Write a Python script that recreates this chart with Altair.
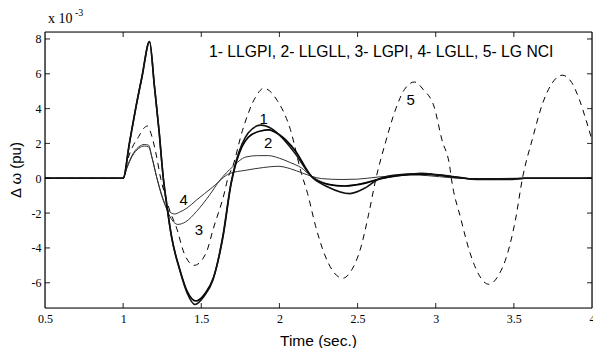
import altair as alt
import pandas as pd

# ---- data (values in units of 1e-3 pu) ----
t1 = [0.5, 1.0, 1.04, 1.08, 1.12, 1.169, 1.2, 1.23, 1.257, 1.278, 1.31, 1.363, 1.41, 1.46, 1.52, 1.574,
      1.637, 1.69, 1.72, 1.76, 1.8, 1.88, 1.95, 2.02, 2.1, 2.207, 2.31, 2.45, 2.55, 2.627, 2.73, 2.9,
      3.05, 3.16, 3.26, 3.47, 3.57, 4.0]
v1 = [0, 0, 2.0, 4.0, 5.8, 7.85, 5.3, 2.7, 0.0, -1.45, -3.37, -5.3, -6.6, -7.25, -6.75, -5.86,
      -3.37, -0.3, 0.9, 1.95, 2.6, 3.05, 2.85, 2.3, 1.43, 0.07, -0.5, -0.88, -0.55, -0.08, 0.17, 0.27,
      0.17, 0.04, -0.07, -0.07, 0.0, 0.0]

t2 = [0.5, 1.0, 1.04, 1.08, 1.12, 1.169, 1.2, 1.23, 1.257, 1.278, 1.31, 1.363, 1.41, 1.465, 1.525, 1.578,
      1.64, 1.69, 1.72, 1.76, 1.8, 1.88, 1.93, 2.0, 2.1, 2.207, 2.31, 2.42, 2.55, 2.65, 2.75, 2.9,
      3.05, 3.16, 3.26, 3.47, 3.57, 4.0]
v2 = [0, 0, 2.0, 4.0, 5.8, 7.85, 5.3, 2.7, 0.0, -1.45, -3.37, -5.25, -6.5, -7.05, -6.6, -5.7,
      -3.3, -0.35, 0.8, 1.8, 2.35, 2.72, 2.78, 2.5, 1.6, 0.1, -0.35, -0.44, -0.28, -0.02, 0.15, 0.24,
      0.15, 0.03, -0.05, -0.06, 0.0, 0.0]

t3 = [0.5, 1.0, 1.025, 1.057, 1.1, 1.135, 1.163, 1.184, 1.215, 1.26, 1.3, 1.35, 1.4, 1.47, 1.55, 1.62,
      1.7, 1.785, 1.86, 1.93, 2.0, 2.07, 2.14, 2.2, 2.3, 2.4, 2.5, 2.6, 2.7, 2.8, 2.92, 3.0, 3.1,
      3.2, 3.3, 3.45, 3.6, 4.0]
v3 = [0, 0, 0.65, 1.32, 1.8, 1.94, 1.9, 1.22, 0.05, -1.3, -2.2, -2.65, -2.5, -1.9, -1.0, -0.1,
      0.65, 1.22, 1.3, 1.3, 1.15, 0.9, 0.6, 0.15, -0.3, -0.45, -0.35, -0.12, 0.05, 0.18, 0.3, 0.2, 0.05,
      -0.03, -0.05, -0.03, 0.0, 0.0]

t4 = [0.5, 1.0, 1.025, 1.057, 1.1, 1.135, 1.163, 1.184, 1.215, 1.25, 1.289, 1.33, 1.36, 1.41, 1.468,
      1.574, 1.68, 1.785, 1.9, 1.99, 2.07, 2.15, 2.27, 2.4, 2.5, 2.63, 2.75, 2.84, 2.95, 3.1, 3.3,
      3.5, 4.0]
v4 = [0, 0, 0.6, 1.25, 1.72, 1.85, 1.8, 1.2, 0.05, -1.1, -1.85, -2.05, -1.95, -1.7, -1.26,
      -0.5, 0.27, 0.46, 0.62, 0.69, 0.55, 0.29, -0.02, -0.07, -0.05, 0.07, 0.15, 0.2, 0.15, 0.03, -0.03,
      0.0, 0.0]

t5 = [0.5, 1.0, 1.03, 1.06, 1.1, 1.13, 1.155, 1.184, 1.215, 1.24, 1.266, 1.3, 1.34, 1.39, 1.454,
      1.53, 1.58, 1.646, 1.67, 1.7, 1.764, 1.848, 1.9, 1.985, 2.07, 2.14, 2.18, 2.23, 2.29, 2.34, 2.405,
      2.46, 2.52, 2.57, 2.618, 2.68, 2.745, 2.80, 2.865, 2.92, 2.99, 3.04, 3.09, 3.10, 3.16, 3.22,
      3.28, 3.34, 3.40, 3.46, 3.51, 3.555, 3.62, 3.68, 3.74, 3.81, 3.87, 3.92, 3.96, 4.0]
v5 = [0, 0, 1.1, 1.8, 2.4, 2.85, 3.0, 2.4, 1.2, 0.0, -0.9, -1.9, -2.8, -4.3, -5.0,
      -4.3, -2.8, -0.9, 0.0, 0.65, 2.76, 4.67, 5.17, 4.48, 2.8, 0.3, -0.87, -2.7, -4.4, -5.3, -5.74,
      -5.3, -4.0, -2.1, 0.0, 2.1, 4.0, 5.1, 5.53, 5.1, 4.1, 2.2, 0.65, 0.0, -2.3, -4.3,
      -5.6, -6.09, -5.6, -4.3, -2.4, 0.0, 2.3, 4.2, 5.4, 5.92, 5.5, 4.5, 3.4, 2.2]

x_ticks = [0.5, 1, 1.5, 2, 2.5, 3, 3.5, 4]
y_ticks = [-6, -4, -2, 0, 2, 4, 6, 8]
x_domain = [0.5, 4]
y_domain = [-7.45, 8.4]

curve_labels = ["1", "2", "3", "4", "5"]
label_t = [1.899, 1.928, 1.485, 1.388, 2.84]
label_v = [3.43, 2.03, -2.95, -1.26, 4.52]

legend_text = "1- LLGPI, 2- LLGLL, 3- LGPI, 4- LGLL, 5- LG NCI"

W, H = 547, 276
TICK_PX = 5
SANS = "Liberation Sans, Arial, sans-serif"
SERIF = "Times New Roman, Liberation Serif, serif"

xscale = alt.Scale(domain=x_domain, nice=False, zero=False)
yscale = alt.Scale(domain=y_domain, nice=False, zero=False)
xaxis = alt.Axis(values=x_ticks, labelExpr="'' + datum.value", title=None, grid=False,
                 ticks=False, domain=False, labelFont=SERIF, labelFontSize=12,
                 labelColor="black", labelPadding=5, labelFlush=False)
yaxis = alt.Axis(values=y_ticks, labelExpr="'' + datum.value", title=None, grid=False,
                 ticks=False, domain=False, labelFont=SERIF, labelFontSize=12,
                 labelColor="black", labelPadding=4)


def X(f):
    return alt.X(f, type="quantitative", scale=xscale, axis=xaxis)


def Y(f):
    return alt.Y(f, type="quantitative", scale=yscale, axis=yaxis)


def line(ts, vs, width, color, dash=None, interp="monotone"):
    df = pd.DataFrame({"t": ts, "v": vs, "o": list(range(len(ts)))})
    kw = dict(interpolate=interp, strokeWidth=width, stroke=color)
    if dash:
        kw["strokeDash"] = dash
    return alt.Chart(df).mark_line(**kw).encode(x=X("t"), y=Y("v"), order="o:Q")


def seg(ax, ay, bx, by, width=1.0):
    # straight segment drawn as a 3-point cardinal curve (collinear points)
    mx, my = (ax + bx) / 2, (ay + by) / 2
    return line([ax, mx, bx], [ay, my, by], width, "black", interp="cardinal")


one = pd.DataFrame({"a": [0]})

x0, x1 = x_domain
y0, y1 = y_domain

layers = [
    line(t5, v5, 1, "black", [6, 5]),
    line(t4, v4, 1, "#333333"),
    line(t3, v3, 1, "#333333"),
    line(t2, v2, 1.6, "black"),
    line(t1, v1, 1.6, "#111111"),
    # plot frame
    seg(x0, y1, x1, y1, 1.2),
    seg(x0, y0, x1, y0, 1.2),
    seg(x0, y0, x0, y1, 1.2),
    seg(x1, y0, x1, y1, 1.2),
]

# inward ticks
dx = TICK_PX * (x1 - x0) / W
dy = TICK_PX * (y1 - y0) / H
for tx in x_ticks[1:-1]:
    layers.append(seg(tx, y0, tx, y0 + dy))
    layers.append(seg(tx, y1 - dy, tx, y1))
for ty in y_ticks:
    layers.append(seg(x0, ty, x0 + dx, ty))
    layers.append(seg(x1 - dx, ty, x1, ty))

lab = pd.DataFrame({"t": label_t, "v": label_v, "s": curve_labels})
layers.append(
    alt.Chart(lab).mark_text(font=SANS, fontSize=15, color="black", align="center", baseline="middle")
    .encode(x=X("t"), y=Y("v"), text="s:N")
)

layers += [
    alt.Chart(one).mark_text(text=legend_text, font=SANS, fontSize=15.7, color="black", align="left",
                             baseline="alphabetic").encode(x=alt.value(164), y=alt.value(25.3)),
    alt.Chart(one).mark_text(text="Time (sec.)", font=SANS, fontSize=15.5, color="black", align="center",
                             baseline="middle").encode(x=alt.value(W / 2), y=alt.value(308.5)),
    alt.Chart(one).mark_text(text="\u0394 \u03c9 (pu)", font=SANS, fontSize=15, color="black", align="center",
                             baseline="middle", angle=270).encode(x=alt.value(-29), y=alt.value(H / 2)),
    alt.Chart(one).mark_text(text="x 10", font=SERIF, fontSize=14, color="black", align="left",
                             baseline="alphabetic").encode(x=alt.value(3), y=alt.value(-9)),
    alt.Chart(one).mark_text(text="-3", font=SERIF, fontSize=10, color="black", align="left",
                             baseline="alphabetic").encode(x=alt.value(30), y=alt.value(-16.5)),
]

chart = alt.layer(*layers).properties(
    width=W, height=H,
    autosize=alt.AutoSizeParams(type="none"),
    padding={"left": 37, "top": 24, "right": 1, "bottom": 40},
).configure_view(stroke="black", strokeWidth=1.2).configure(background="white")

chart.save("out.html", embed_options={"renderer": "svg", "actions": False})
